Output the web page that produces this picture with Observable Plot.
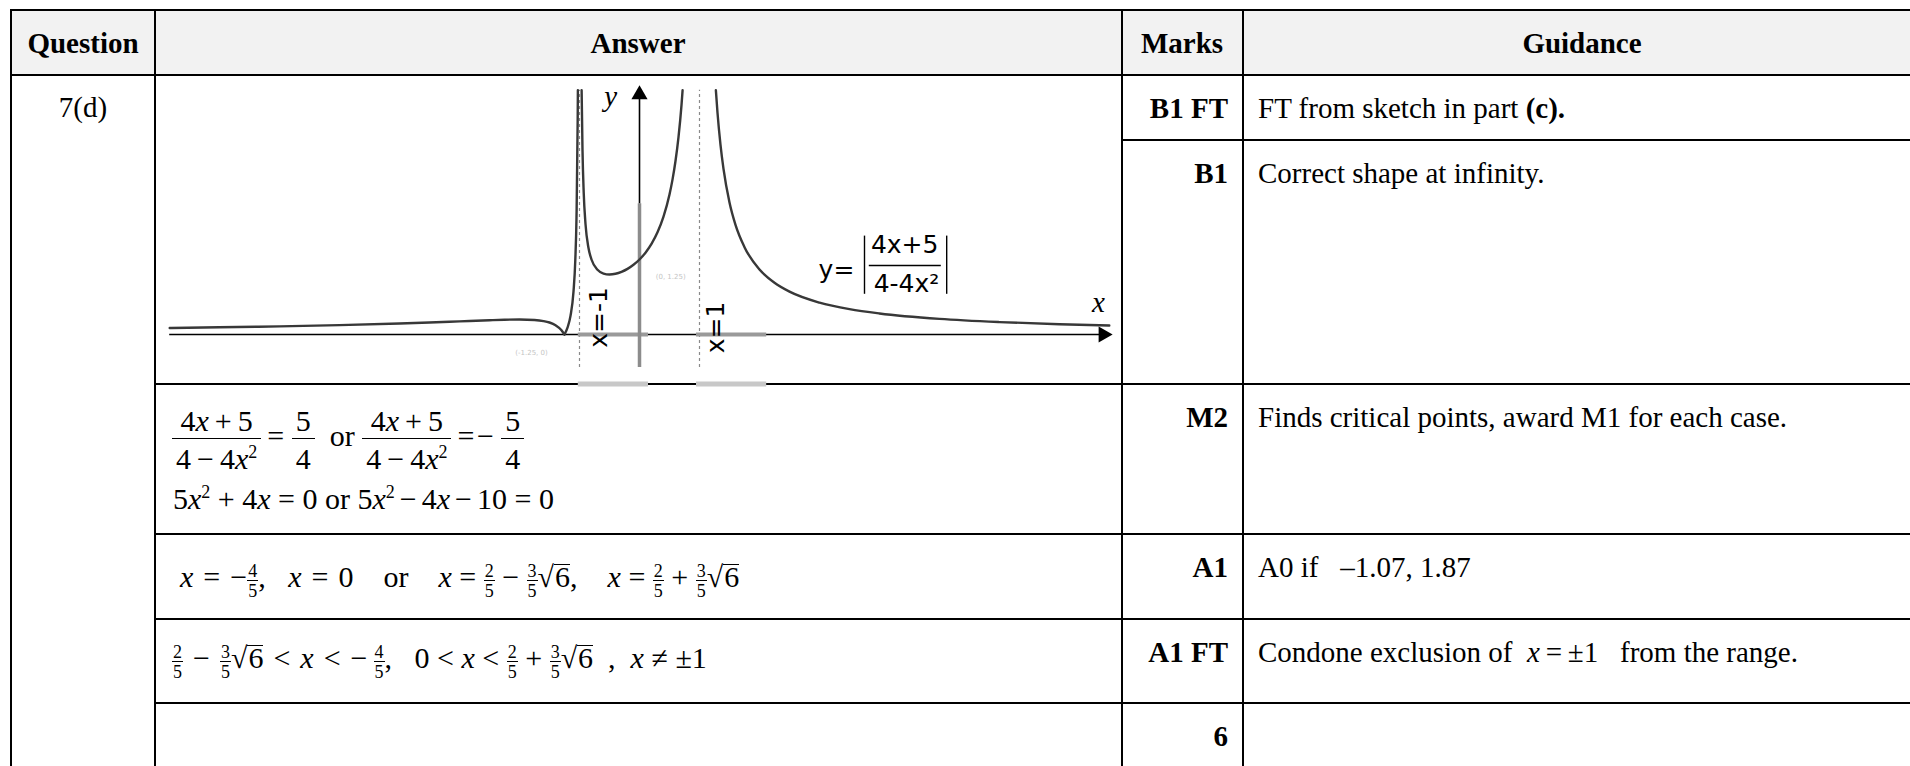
<!DOCTYPE html>
<html><head><meta charset="utf-8">
<script src="https://cdn.jsdelivr.net/npm/d3@7"></script>
<script src="https://cdn.jsdelivr.net/npm/@observablehq/plot@0.6"></script>
<style>
html,body{margin:0;padding:0;background:#fff;}
#page{position:relative;width:1910px;height:766px;overflow:hidden;font-family:"Liberation Serif","Times New Roman",serif;color:#000;}
.ln{position:absolute;background:#000;}
.hdr{position:absolute;background:#f2f2f2;}
.txt{position:absolute;white-space:pre;line-height:1;}
.row{position:absolute;height:0;display:flex;align-items:center;white-space:pre;line-height:1;}
.row .t{position:relative;top:var(--sh);}
.fr{display:inline-flex;flex-direction:column;align-items:stretch;text-align:center;}
.fr .n{border-bottom:1.6px solid #000;line-height:1;}
.fr .d{line-height:1;}
.big .n{padding:0 4px 2px;}
.big .d{padding:5px 4px 0;}
.sm{font-size:18px;}
.sm .n{padding:0 1px 0;border-bottom-width:1.1px;}
.sm .d{padding:1px 1px 0;}
sup{font-size:0.6em;line-height:0;vertical-align:0.6em;}
.ov{display:inline-block;border-top:1.4px solid #000;line-height:0.8em;padding-left:1px;}
#chart{position:absolute;left:158px;top:76px;z-index:2;}
</style></head>
<body><div id="page"></div>
<script>
// ---------- table text ----------
const headers = ["Question", "Answer", "Marks", "Guidance"];
const question = "7(d)";
const marks = ["B1 FT", "B1", "M2", "A1", "A1 FT", "6"];
const guidance = [
  "FT from sketch in part <b>(c).</b>",
  "Correct shape at infinity.",
  "Finds critical points, award M1 for each case.",
  "A0 if   –1.07, 1.87",
  "Condone exclusion of  <i>x</i>\u2009=\u2009±1   from the range.",
  ""
];

// ---------- sketch data: y = |(4x+5)/(4-4x^2)| ----------
const leftOuter = [[-7.83,0.109],[-7,0.12],[-6,0.136],[-5,0.156],[-4,0.183],[-3.5,0.2],[-3,0.219],[-2.5,0.238],[-2.25,0.246],[-2,0.25],[-1.75,0.242],[-1.6,0.224],[-1.5,0.2],[-1.4,0.156],[-1.3,0.072],[-1.25,0]];
const leftInner = [[-1.25,0],[-1.2,0.114],[-1.15,0.31],[-1.1,0.714],[-1.07,1.242],[-1.05,1.951],[-1.03,3.61],[-1.027,4.07]];
const middle = [[-0.9645,4.07],[-0.95,3.077],[-0.93,2.369],[-0.9,1.842],[-0.85,1.441],[-0.8,1.25],[-0.7,1.078],[-0.6,1.016],[-0.5,1],[-0.4,1.012],[-0.3,1.044],[-0.2,1.094],[-0.1,1.162],[0,1.25],[0.1,1.364],[0.2,1.51],[0.3,1.703],[0.4,1.964],[0.5,2.333],[0.55,2.581],[0.6,2.891],[0.65,3.29],[0.7,3.824],[0.718,4.07]];
const rightBranch = [[1.273,4.07],[1.3,3.696],[1.35,3.161],[1.4,2.76],[1.5,2.2],[1.6,1.827],[1.75,1.455],[2,1.083],[2.25,0.862],[2.5,0.714],[3,0.531],[3.5,0.422],[4,0.35],[5,0.26],[6,0.207],[7,0.172],[7.83,0.151]];
const asymptotes = [-1, 1];
const xAxisSpan = [-7.83, 7.73];
const yAxisBlack = [2.18, 4.0];
const yAxisGrey = [-0.55, 2.18];
const asymptoteSpan = [-0.55, 4.07];
const greyPatches = [[-1.02, 0.15], [0.95, 2.12]];
const axisLabels = [{x: -0.48, y: 3.97, label: "y"}, {x: 7.65, y: 0.53, label: "x"}];
const asymptoteLabels = [{x: -0.683, y: 0.283, label: "x=-1"}, {x: 1.283, y: 0.117, label: "x=1"}];
const equationLabels = [{x: 3.283, y: 1.083, label: "y="}, {x: 4.42, y: 1.5, label: "4x+5"}, {x: 4.45, y: 0.85, label: "4-4x²"}];
const equationBars = [3.75, 5.12];
const faintLabels = [{x: -1.8, y: -0.3, label: "(-1.25, 0)"}, {x: 0.52, y: 0.97, label: "(0, 1.25)"}];

const page = document.getElementById("page");
function box(cls, l, t, w, h) {
  const d = document.createElement("div"); d.className = cls;
  Object.assign(d.style, {left: l + "px", top: t + "px", width: w + "px", height: h + "px"});
  page.appendChild(d);
}
function put(html, x, base, size, align, weight) {
  const d = document.createElement("div"); d.className = "txt"; d.innerHTML = html;
  d.style.fontSize = size + "px";
  d.style.top = (base - 0.8375 * size) + "px";
  d.style.left = x + "px";
  if (weight) d.style.fontWeight = weight;
  if (align === "center") d.style.transform = "translateX(-50%)";
  else if (align === "right") d.style.transform = "translateX(-100%)";
  page.appendChild(d);
}
function row(html, x, center, size, shift) {
  const d = document.createElement("div"); d.className = "row"; d.innerHTML = html;
  d.style.left = x + "px"; d.style.top = center + "px"; d.style.fontSize = size + "px";
  d.style.setProperty("--sh", shift + "px");
  page.appendChild(d);
}

// header background
box("hdr", 11, 10, 1899, 64.5);
// grid lines
const lw = 2;
[11, 154.5, 1122, 1242.5].forEach(x => box("ln", x - lw / 2, 9, lw, 757));
[10, 74.5].forEach(y => box("ln", 10, y - lw / 2, 1900, lw));
box("ln", 1121, 140 - lw / 2, 789, lw);
[383.5, 534, 618.5, 703].forEach(y => box("ln", 154, y - lw / 2, 1756, lw));

// header text
const hdrX = [83, 638, 1182, 1582];
headers.forEach((h, i) => put(h, hdrX[i], 53, 29, "center", "bold"));
put(question, 83, 117, 29, "center");
const rowTops = [74.5, 140, 383.5, 534, 618.5, 703];
marks.forEach((m, i) => put(m, 1228, rowTops[i] + 43.5, 29, "right", "bold"));
guidance.forEach((g, i) => put(g, 1258, rowTops[i] + 43.5, 29, "left"));

// answer maths
const X = "<i>x</i>";
const s = "\u2005";   // medium math space
const w = "\u2004";   // thick math space
const h = "\u200A";   // hair space
const th = "\u2009";  // thin space
const fracBig = (a, b) => `<span class="fr big"><span class="n">${a}</span><span class="d">${b}</span></span>`;
const fracSm = (a, b) => `<span class="fr sm"><span class="n">${a}</span><span class="d">${b}</span></span>`;
const T = str => `<span class="t">${str}</span>`;
const sq6 = `<span class="t">√<span class="ov">6</span></span>`;
const lhs = fracBig(`4${X}\u2009+\u20095`, `4\u2009\u2212\u20094${X}<sup>2</sup>`);
row(lhs + T(th + "=" + s) + fracBig("5", "4") + T("  or ") + lhs + T(th + "=" + h + "\u2212" + s) + fracBig("5", "4"), 172, 440, 30, -4);
put(`5${X}<sup>2</sup>${s}+${s}4${X}${s}=${s}0 or 5${X}<sup>2</sup>\u2006\u2212\u20064${X}\u2006\u2212\u200610${s}=${s}0`, 173, 509, 30, "left");
const gapA = "\u2002\u2005";
const gapB = "\u2003";
row(T(`${X}${w}=${w}\u2212`) + fracSm("4", "5") + T("," + gapA + X + w + "=" + w + "0" + gapB + "or" + gapB + X + s + "=" + s) + fracSm("2", "5") + T(s + "\u2212" + s) + fracSm("3", "5") + sq6 + T("," + gapB + X + s + "=" + s) + fracSm("2", "5") + T(s + "+" + s) + fracSm("3", "5") + sq6, 180, 581, 30, -4);
row(fracSm("2", "5") + T(w + "\u2212" + w) + fracSm("3", "5") + sq6 + T(`${w}<${w}${X}${w}<${w}\u2212${th}`) + fracSm("4", "5") + T("," + gapA + "0" + s + "<" + s + X + s + "<" + s) + fracSm("2", "5") + T(s + "+" + s) + fracSm("3", "5") + sq6 + T("  ,  " + X + s + "\u2260" + s + "±1"), 172, 662, 30, -4);

// ---------- the sketch, with Observable Plot ----------
const branches = [
  {name: "leftOuter", points: leftOuter},
  {name: "leftInner", points: leftInner},
  {name: "middle", points: middle},
  {name: "right", points: rightBranch}
];
const curveRows = branches.flatMap(b => b.points.map(([x, y]) => ({x, y, branch: b.name})));

const chart = Plot.plot({
  width: 962, height: 312,
  marginTop: 0, marginRight: 0, marginBottom: 0, marginLeft: 0,
  x: {domain: [-8.0167, 8.0167], axis: null},
  y: {domain: [-0.9, 4.3], axis: null},
  style: {background: "transparent", overflow: "visible"},
  marks: [
    Plot.ruleX(asymptotes, {y1: asymptoteSpan[0], y2: asymptoteSpan[1], stroke: "#8a8a8a", strokeWidth: 1.2, strokeDasharray: "3,3"}),
    Plot.ruleY(greyPatches, {x1: d => d[0], x2: d => d[1], y: -0.825, stroke: "#c8c8c8", strokeWidth: 5}),
    Plot.ruleY([0], {x1: xAxisSpan[0], x2: xAxisSpan[1], stroke: "#000", strokeWidth: 1.6}),
    Plot.ruleY(greyPatches, {x1: d => d[0], x2: d => d[1], y: 0, stroke: "#9a9a9a", strokeWidth: 4}),
    Plot.ruleX([0], {y1: yAxisGrey[0], y2: yAxisGrey[1], stroke: "#8c8c8c", strokeWidth: 3.5}),
    Plot.ruleX([0], {y1: yAxisBlack[0], y2: yAxisBlack[1], stroke: "#000", strokeWidth: 1.6}),
    Plot.line(curveRows, {x: "x", y: "y", z: "branch", curve: "monotone-x", stroke: "#383838", strokeWidth: 2.4}),
    Plot.dot([{x: xAxisSpan[1], y: 0}], {x: "x", y: "y", symbol: "triangle", r: 6, rotate: 90, fill: "#000", stroke: null}),
    Plot.dot([{x: 0, y: yAxisBlack[1]}], {x: "x", y: "y", symbol: "triangle", r: 6, fill: "#000", stroke: null}),
    Plot.text(axisLabels, {x: "x", y: "y", text: "label", fontFamily: "Liberation Serif", fontStyle: "italic", fontSize: 29, fill: "#000"}),
    Plot.text(asymptoteLabels, {x: "x", y: "y", text: "label", fontFamily: "DejaVu Sans", fontSize: 25, rotate: -90, fill: "#000"}),
    Plot.text(equationLabels, {x: "x", y: "y", text: "label", fontFamily: "DejaVu Sans", fontSize: 25, fill: "#000"}),
    Plot.ruleX(equationBars, {y1: 0.67, y2: 1.64, stroke: "#000", strokeWidth: 1.4}),
    Plot.ruleY([1.15], {x1: 3.83, x2: 5.03, stroke: "#000", strokeWidth: 1.3}),
    Plot.text(faintLabels, {x: "x", y: "y", text: "label", fontFamily: "DejaVu Sans", fontSize: 7, fill: "#c4c4c4"})
  ]
});
const holder = document.createElement("div"); holder.id = "chart";
holder.appendChild(chart);
page.appendChild(holder);
</script>
</body></html>
